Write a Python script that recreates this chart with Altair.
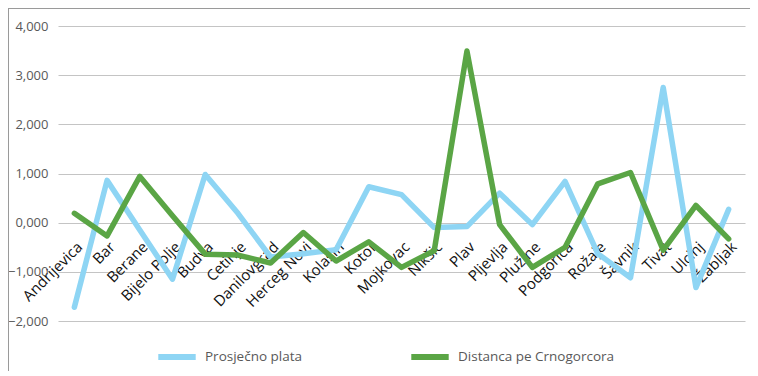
import altair as alt
import pandas as pd

categories = ["Andrijevica", "Bar", "Berane", "Bijelo Polje", "Budva", "Cetinje",
              "Danilovgrad", "Herceg Novi", "Kolašin", "Kotor", "Mojkovac", "Nikšić",
              "Plav", "Pljevlja", "Plužine", "Podgorica", "Rožaje", "Šavnik", "Tivat",
              "Ulcinj", "Žabljak"]
plata = [-1.72, 0.86, -0.15, -1.15, 0.98, 0.19, -0.70, -0.63, -0.55, 0.73, 0.57,
         -0.10, -0.08, 0.60, -0.04, 0.84, -0.63, -1.12, 2.75, -1.32, 0.27]
distanca = [0.19, -0.27, 0.94, 0.14, -0.64, -0.66, -0.82, -0.20, -0.78, -0.39, -0.91,
            -0.57, 3.49, -0.04, -0.91, -0.50, 0.79, 1.02, -0.56, 0.35, -0.33]
series = ["Prosječno plata", "Distanca pe Crnogorcora"]
colors = ["#8ED5F4", "#5AA545"]
y_ticks = [-2, -1, 0, 1, 2, 3, 4]

rows = []
for s, vals in zip(series, [plata, distanca]):
    for c, v in zip(categories, vals):
        rows.append({"Opština": c, "Serija": s, "Vrijednost": v, "ord": series.index(s)})
df = pd.DataFrame(rows)

W, H = 687, 295

lines = alt.Chart(df).mark_line(strokeWidth=5.5, strokeJoin="round", strokeCap="round").encode(
    x=alt.X("Opština:N", sort=categories, title=None,
            axis=alt.Axis(labelAngle=-45, offset=-99, domain=False, ticks=False,
                          labelPadding=17, labelFontSize=15, labelColor="#111111",
                          labelFont="Open Sans", grid=False, labelAlign="right",
                          labelBaseline="top", labelOffset=0)),
    y=alt.Y("Vrijednost:Q", title=None,
            scale=alt.Scale(domain=[-2, 4], nice=False),
            axis=alt.Axis(values=y_ticks, domain=False, ticks=False, labelPadding=10,
                          labelFontSize=13, labelColor="#595959", labelFont="Open Sans",
                          gridColor="#C4C4C4", gridWidth=1.2,
                          labelExpr="replace(format(datum.value, '.3f'), '.', ',')")),
    color=alt.Color("Serija:N", scale=alt.Scale(domain=series, range=colors),
                    legend=alt.Legend(title=None, orient="none", direction="horizontal",
                                      legendX=97, legendY=309, symbolType="stroke",
                                      symbolSize=1400, symbolStrokeWidth=6,
                                      columnPadding=96, labelFontSize=13.5,
                                      labelColor="#595959", labelFont="Open Sans",
                                      labelOffset=6)),
    detail="Serija:N",
    order="ord:Q",
)

frame_left = alt.Chart().mark_rule(color="#9A9A9A", strokeWidth=1).encode(
    x=alt.value(-49.5), y=alt.value(-18), y2=alt.value(360))
frame_top = alt.Chart().mark_rule(color="#9A9A9A", strokeWidth=1).encode(
    x=alt.value(-49.5), x2=alt.value(700), y=alt.value(-17.5))

chart = alt.layer(frame_left, frame_top, lines).properties(
    width=W, height=H,
    autosize=alt.AutoSizeParams(type="none"),
    padding={"left": 50, "top": 18, "right": 5, "bottom": 50},
).configure_view(stroke=None)

chart.save("out.html", embed_options={"renderer": "svg", "actions": False})
